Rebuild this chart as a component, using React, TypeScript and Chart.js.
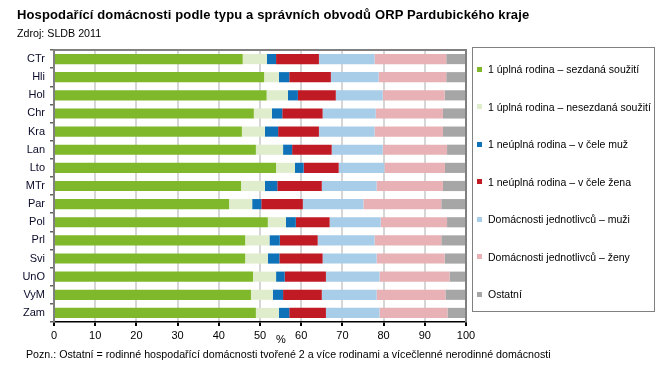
import React, { useEffect, useRef } from "react";
import { Chart, registerables } from "chart.js";

Chart.register(...registerables);

const categories = ["CTr", "Hli", "Hol", "Chr", "Kra", "Lan", "Lto", "MTr", "Par", "Pol", "Prl", "Svi", "UnO", "VyM", "Zam"];

const seriesNames = [
  "1 úplná rodina – sezdaná soužití",
  "1 úplná rodina – nesezdaná soužití",
  "1 neúplná rodina – v čele muž",
  "1 neúplná rodina – v čele žena",
  "Domácnosti jednotlivců – muži",
  "Domácnosti jednotlivců – ženy",
  "Ostatní",
];

const sezdana = [45.8, 51.0, 51.6, 48.5, 45.6, 49.0, 53.9, 45.4, 42.5, 51.9, 46.4, 46.4, 48.3, 47.8, 49.0];
const nesezdana = [5.9, 3.6, 5.2, 4.4, 5.6, 6.6, 4.6, 5.8, 5.6, 4.4, 5.9, 5.5, 5.6, 5.3, 5.6];
const neuplnaMuz = [2.2, 2.5, 2.4, 2.5, 3.2, 2.2, 2.1, 3.0, 2.2, 2.4, 2.5, 2.8, 2.1, 2.5, 2.5];
const neuplnaZena = [10.4, 10.1, 9.2, 9.8, 9.9, 9.6, 8.5, 10.8, 10.1, 8.2, 9.2, 10.5, 10.0, 9.4, 8.9];
const jednotlivciMuzi = [13.5, 11.6, 11.4, 12.9, 13.5, 12.4, 11.1, 13.3, 14.7, 12.4, 13.8, 13.1, 13.0, 13.3, 13.0];
const jednotlivciZeny = [17.4, 16.4, 15.0, 16.3, 16.6, 15.6, 14.7, 16.1, 18.9, 16.1, 16.2, 16.5, 17.0, 16.7, 16.5];
const ostatni = [4.8, 4.8, 5.2, 5.6, 5.6, 4.6, 5.1, 5.6, 6.0, 4.6, 6.0, 5.2, 4.0, 5.0, 4.5];

const xTicks = [0, 10, 20, 30, 40, 50, 60, 70, 80, 90, 100];

const colors = ["#7fb92b", "#e0edcd", "#0f72b9", "#c01b24", "#a8cde8", "#e8b1b5", "#a6a6a6"];

const title = "Hospodařící domácnosti podle typu a správních obvodů ORP Pardubického kraje";
const subtitle = "Zdroj: SLDB 2011";
const note = "Pozn.: Ostatní = rodinné hospodařící domácnosti tvořené 2 a více rodinami a vícečlenné nerodinné domácnosti";

const FONT = "'Liberation Sans', Arial, sans-serif";

export default function App() {
  const ref = useRef<HTMLCanvasElement | null>(null);

  useEffect(() => {
    if (!ref.current) return;
    const values = [sezdana, nesezdana, neuplnaMuz, neuplnaZena, jednotlivciMuzi, jednotlivciZeny, ostatni];
    const frame = {
      id: "frame",
      afterDraw(chart: any) {
        const { ctx, chartArea } = chart;
        ctx.save();
        ctx.strokeStyle = "#808080";
        ctx.lineWidth = 2;
        ctx.beginPath();
        ctx.moveTo(chartArea.left - 1, chartArea.top);
        ctx.lineTo(chartArea.right, chartArea.top);
        ctx.lineTo(chartArea.right, chartArea.bottom);
        ctx.stroke();
        ctx.restore();
      },
    };
    const chart = new Chart(ref.current, {
      type: "bar",
      data: {
        labels: categories,
        datasets: values.map((v, i) => ({
          label: seriesNames[i],
          data: v,
          backgroundColor: colors[i],
          borderWidth: 0,
          categoryPercentage: 1,
          barPercentage: 0.56,
        })),
      },
      options: {
        indexAxis: "y",
        animation: false,
        responsive: false,
        maintainAspectRatio: false,
        layout: { padding: { left: 0, top: 50, right: 198, bottom: 28 } },
        plugins: {
          legend: { display: false },
          tooltip: { enabled: false },
          title: { display: false },
        },
        scales: {
          x: {
            stacked: true,
            min: 0,
            max: 100,
            afterBuildTicks(scale: any) {
              scale.ticks = xTicks.map((v) => ({ value: v }));
            },
            afterFit(scale: any) {
              scale.height = 20;
            },
            grid: {
              color: "#d6d6d6",
              lineWidth: 2,
              tickColor: "#000",
              tickLength: 4,
              drawOnChartArea: true,
            },
            border: { color: "#000", width: 1.5 },
            ticks: {
              color: "#000",
              font: { family: FONT, size: 11 },
              padding: 3,
              maxRotation: 0,
            },
          },
          y: {
            stacked: true,
            afterFit(scale: any) {
              scale.width = 54;
            },
            grid: {
              offset: true,
              drawOnChartArea: false,
              tickColor: "#606060",
              tickLength: 4,
              lineWidth: 1.5,
            },
            border: { color: "#808080", width: 2 },
            ticks: {
              color: "#0a0a2a",
              font: { family: FONT, size: 11 },
              padding: 5,
            },
          },
        },
      },
      plugins: [frame],
    });
    return () => chart.destroy();
  }, []);

  const legendTop = 69;
  const legendStep = 37.5;

  return (
    <div style={{ position: "absolute", left: 0, top: 0, width: 664, height: 370, background: "#fff", fontFamily: FONT, color: "#000" }}>
      <canvas ref={ref} width={664} height={370} style={{ position: "absolute", left: 0, top: 0, width: 664, height: 370 }} />
      <div style={{ position: "absolute", left: 17, top: 7, fontSize: 13, letterSpacing: 0.13, fontWeight: "bold", whiteSpace: "nowrap" }}>{title}</div>
      <div style={{ position: "absolute", left: 17, top: 27, fontSize: 10.7, whiteSpace: "nowrap" }}>{subtitle}</div>
      <div style={{ position: "absolute", left: 276, top: 333, fontSize: 11 }}>%</div>
      <div style={{ position: "absolute", left: 26, top: 348, fontSize: 10.67, whiteSpace: "nowrap" }}>{note}</div>
      <div style={{ position: "absolute", left: 472, top: 47, width: 181, height: 263, border: "1px solid #808080", overflow: "hidden" }}>
        {seriesNames.map((name, i) => (
          <div key={name} style={{ position: "absolute", left: 4, top: legendTop - 47 - 1 + i * legendStep - 7, height: 14, display: "flex", alignItems: "center", whiteSpace: "nowrap", fontSize: 10.5 }}>
            <span style={{ display: "inline-block", width: 5, height: 5, background: colors[i], marginRight: 6 }} />
            <span>{name}</span>
          </div>
        ))}
      </div>
    </div>
  );
}
